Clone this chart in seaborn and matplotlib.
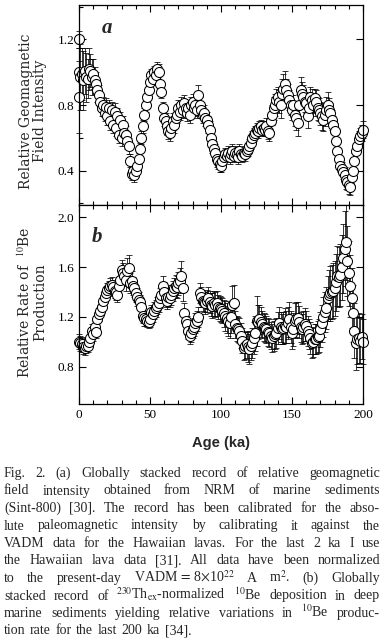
import matplotlib
matplotlib.use("Agg")
import matplotlib.pyplot as plt
import seaborn as sns
from matplotlib.ticker import MultipleLocator

# (a) relative geomagnetic field intensity
# two Hawaiian lava points at 0 ka, then Sint-800 at 1 ka steps
age_a = [0, 0] + list(range(0, 201))
intensity_a = [
    1.20, 0.85,
    1.00, 0.97, 0.99, 0.95, 1.01, 0.97, 0.96, 1.02, 1.01, 0.97,
    0.99, 0.95, 0.93, 0.89, 0.86, 0.82, 0.78, 0.80, 0.75, 0.79,
    0.73, 0.78, 0.70, 0.77, 0.68, 0.76, 0.66, 0.73, 0.62, 0.71,
    0.60, 0.68, 0.63, 0.62, 0.58, 0.55, 0.46, 0.38, 0.40, 0.37,
    0.40, 0.43, 0.47, 0.53, 0.60, 0.67, 0.74, 0.80, 0.85, 0.89,
    0.94, 0.98, 0.96, 1.00, 0.98, 1.02, 1.00, 0.93, 0.88, 0.78,
    0.72, 0.70, 0.67, 0.64, 0.63, 0.66, 0.70, 0.68, 0.72, 0.74,
    0.78, 0.76, 0.80, 0.77, 0.81, 0.78, 0.75, 0.78, 0.74, 0.80,
    0.82, 0.78, 0.80, 0.77, 0.86, 0.80, 0.77, 0.74, 0.75, 0.72,
    0.71, 0.68, 0.65, 0.60, 0.56, 0.53, 0.51, 0.47, 0.46, 0.44,
    0.43, 0.46, 0.48, 0.50, 0.49, 0.51, 0.48, 0.50, 0.52, 0.49,
    0.51, 0.50, 0.48, 0.52, 0.50, 0.49, 0.51, 0.50, 0.52, 0.53,
    0.55, 0.57, 0.60, 0.62, 0.63, 0.65, 0.64, 0.66, 0.67, 0.65,
    0.66, 0.65, 0.67, 0.64, 0.63, 0.70, 0.74, 0.78, 0.80, 0.83,
    0.85, 0.82, 0.80, 0.87, 0.90, 0.93, 0.89, 0.86, 0.83, 0.80,
    0.77, 0.80, 0.74, 0.72, 0.69, 0.80, 0.89, 0.87, 0.85, 0.82,
    0.81, 0.73, 0.78, 0.85, 0.83, 0.80, 0.84, 0.82, 0.78, 0.77,
    0.75, 0.73, 0.71, 0.74, 0.77, 0.80, 0.77, 0.75, 0.71, 0.68,
    0.64, 0.58, 0.52, 0.47, 0.43, 0.41, 0.39, 0.37, 0.34, 0.33,
    0.31, 0.30, 0.36, 0.40, 0.46, 0.52, 0.55, 0.59, 0.61, 0.63,
    0.65,
]
err_a = [
    0.05, 0.22,
    0.15, 0.20, 0.16, 0.18, 0.14, 0.15, 0.12, 0.13, 0.10, 0.11,
    0.09, 0.08, 0.07, 0.07, 0.06, 0.05, 0.05, 0.05, 0.05, 0.05,
    0.05, 0.05, 0.05, 0.05, 0.05, 0.05, 0.05, 0.05, 0.05, 0.05,
    0.05, 0.05, 0.05, 0.05, 0.05, 0.05, 0.04, 0.04, 0.04, 0.04,
    0.04, 0.04, 0.04, 0.04, 0.04, 0.04, 0.04, 0.04, 0.04, 0.04,
    0.04, 0.04, 0.04, 0.04, 0.04, 0.04, 0.05, 0.05, 0.04, 0.04,
    0.05, 0.05, 0.05, 0.05, 0.05, 0.05, 0.05, 0.05, 0.05, 0.05,
    0.05, 0.05, 0.05, 0.05, 0.05, 0.05, 0.05, 0.05, 0.05, 0.05,
    0.05, 0.05, 0.05, 0.05, 0.06, 0.05, 0.05, 0.05, 0.05, 0.05,
    0.05, 0.05, 0.05, 0.05, 0.05, 0.05, 0.05, 0.05, 0.05, 0.05,
    0.04, 0.04, 0.04, 0.04, 0.04, 0.04, 0.04, 0.04, 0.04, 0.04,
    0.04, 0.04, 0.04, 0.04, 0.04, 0.04, 0.04, 0.04, 0.04, 0.04,
    0.04, 0.04, 0.04, 0.04, 0.04, 0.04, 0.04, 0.04, 0.04, 0.04,
    0.04, 0.04, 0.05, 0.05, 0.05, 0.06, 0.06, 0.07, 0.07, 0.07,
    0.06, 0.07, 0.08, 0.09, 0.09, 0.08, 0.07, 0.07, 0.06, 0.06,
    0.06, 0.06, 0.07, 0.07, 0.08, 0.07, 0.08, 0.07, 0.07, 0.06,
    0.06, 0.07, 0.06, 0.06, 0.07, 0.07, 0.06, 0.07, 0.07, 0.07,
    0.07, 0.08, 0.07, 0.07, 0.08, 0.08, 0.07, 0.06, 0.06, 0.05,
    0.05, 0.05, 0.05, 0.05, 0.04, 0.04, 0.04, 0.05, 0.05, 0.05,
    0.05, 0.05, 0.05, 0.05, 0.05, 0.05, 0.05, 0.05, 0.05, 0.05,
    0.05,
]

# (b) relative 10Be production rate
age_b = list(range(0, 201))
rate_b = [
    1.00, 0.99, 0.98, 0.96, 0.95, 0.97, 0.97, 1.00, 1.03, 1.09,
    1.06, 1.12, 1.08, 1.18, 1.22, 1.25, 1.28, 1.33, 1.36, 1.39,
    1.42, 1.43, 1.45, 1.46, 1.44, 1.41, 1.40, 1.38, 1.45, 1.50,
    1.58, 1.55, 1.53, 1.50, 1.57, 1.59, 1.47, 1.49, 1.45, 1.43,
    1.39, 1.36, 1.34, 1.32, 1.28, 1.21, 1.19, 1.18, 1.17, 1.16,
    1.18, 1.24, 1.22, 1.25, 1.27, 1.29, 1.31, 1.35, 1.38, 1.45,
    1.40, 1.35, 1.33, 1.36, 1.35, 1.38, 1.41, 1.43, 1.45, 1.44,
    1.47, 1.49, 1.53, 1.43, 1.23, 1.17, 1.14, 1.09, 1.05, 1.07,
    1.10, 1.12, 1.15, 1.17, 1.20, 1.39, 1.36, 1.33, 1.32, 1.31,
    1.33, 1.35, 1.32, 1.30, 1.29, 1.31, 1.30, 1.31, 1.28, 1.27,
    1.26, 1.25, 1.23, 1.21, 1.19, 1.17, 1.15, 1.20, 1.30, 1.31,
    1.14, 1.11, 1.10, 1.09, 1.05, 1.01, 0.95, 0.97, 0.98, 0.96,
    0.94, 0.97, 0.99, 1.03, 1.07, 1.17, 1.16, 1.18, 1.16, 1.14,
    1.12, 1.11, 1.10, 1.08, 1.07, 1.05, 1.03, 1.05, 1.06, 1.07,
    1.11, 1.15, 1.12, 1.10, 1.11, 1.13, 1.12, 1.15, 1.18, 1.12,
    1.07, 1.10, 1.17, 1.18, 1.19, 1.16, 1.12, 1.10, 1.12, 1.14,
    1.13, 1.09, 1.06, 1.03, 0.99, 1.00, 1.02, 1.02, 1.04, 1.05,
    1.10, 1.15, 1.20, 1.24, 1.27, 1.35, 1.38, 1.39, 1.40, 1.41,
    1.43, 1.48, 1.53, 1.52, 1.54, 1.60, 1.67, 1.75, 1.80, 1.65,
    1.55, 1.45, 1.35, 1.23, 1.09, 0.99, 1.02, 1.03, 1.01, 1.04,
    1.00,
]
err_b = [
    0.06, 0.06, 0.06, 0.06, 0.06, 0.06, 0.05, 0.05, 0.05, 0.05,
    0.05, 0.05, 0.05, 0.05, 0.05, 0.05, 0.05, 0.05, 0.05, 0.05,
    0.05, 0.06, 0.06, 0.06, 0.06, 0.06, 0.06, 0.06, 0.07, 0.07,
    0.08, 0.08, 0.08, 0.09, 0.10, 0.11, 0.08, 0.08, 0.07, 0.07,
    0.07, 0.07, 0.06, 0.06, 0.06, 0.06, 0.06, 0.05, 0.05, 0.05,
    0.06, 0.06, 0.06, 0.07, 0.07, 0.07, 0.07, 0.08, 0.08, 0.08,
    0.08, 0.07, 0.07, 0.07, 0.07, 0.08, 0.08, 0.08, 0.09, 0.09,
    0.09, 0.10, 0.12, 0.10, 0.08, 0.07, 0.07, 0.07, 0.07, 0.07,
    0.07, 0.07, 0.08, 0.08, 0.08, 0.08, 0.08, 0.08, 0.08, 0.09,
    0.09, 0.09, 0.09, 0.09, 0.10, 0.10, 0.10, 0.10, 0.10, 0.10,
    0.10, 0.10, 0.11, 0.12, 0.12, 0.12, 0.12, 0.13, 0.15, 0.15,
    0.11, 0.10, 0.10, 0.10, 0.10, 0.10, 0.10, 0.11, 0.11, 0.12,
    0.12, 0.12, 0.12, 0.13, 0.14, 0.20, 0.14, 0.12, 0.12, 0.11,
    0.11, 0.11, 0.11, 0.11, 0.11, 0.11, 0.11, 0.12, 0.12, 0.12,
    0.13, 0.13, 0.12, 0.12, 0.13, 0.14, 0.13, 0.13, 0.14, 0.13,
    0.13, 0.13, 0.14, 0.14, 0.13, 0.13, 0.12, 0.12, 0.13, 0.13,
    0.12, 0.12, 0.12, 0.13, 0.12, 0.12, 0.12, 0.12, 0.13, 0.13,
    0.14, 0.15, 0.16, 0.16, 0.17, 0.18, 0.20, 0.22, 0.22, 0.22,
    0.22, 0.23, 0.24, 0.24, 0.25, 0.26, 0.28, 0.30, 0.30, 0.28,
    0.26, 0.25, 0.24, 0.23, 0.22, 0.22, 0.20, 0.20, 0.18, 0.18,
    0.18,
]

caption_lines = [
    "Fig. 2. (a) Globally stacked record of relative geomagnetic",
    "field intensity obtained from NRM of marine sediments",
    "(Sint-800) [30]. The record has been calibrated for the abso-",
    "lute paleomagnetic intensity by calibrating it against the",
    "VADM data for the Hawaiian lavas. For the last 2 ka I use",
    "the Hawaiian lava data [31]. All data have been normalized",
    r"to the present-day VADM$\,=\,$8$\times$10$^{22}$ A m$^{2}$. (b) Globally",
    r"stacked record of $^{230}$Th$_{\mathrm{ex}}$-normalized $^{10}$Be deposition in deep",
    r"marine sediments yielding relative variations in $^{10}$Be produc-",
    "tion rate for the last 200 ka [34].",
]

sns.set_style("ticks")
plt.rcParams['font.family'] = ['Liberation Serif', 'DejaVu Serif']
plt.rcParams['mathtext.fontset'] = 'stix'

W, H = 382, 640
fig = plt.figure(figsize=(W / 100, H / 100), dpi=100)
ax_a = fig.add_axes([79 / W, 1 - 205 / H, 284 / W, 200 / H])
ax_b = fig.add_axes([79 / W, 1 - 404 / H, 284 / W, 199 / H])


def draw_panel(ax, x, y, err):
    ax.errorbar(x, y, yerr=err, fmt='none', ecolor='black', elinewidth=0.55,
                capsize=2.3, capthick=0.55, zorder=1, clip_on=False)
    sns.scatterplot(x=x, y=y, ax=ax, color='white', edgecolor='black',
                    linewidth=0.75, s=52, zorder=2, legend=False, clip_on=False)
    ax.set_xlim(0, 200)
    ax.set_xlabel("")
    ax.xaxis.set_major_locator(MultipleLocator(50))
    ax.xaxis.set_minor_locator(MultipleLocator(10))
    ax.tick_params(which='both', direction='in', top=True, right=True,
                   labelsize=9.5, width=0.8, colors='black')
    ax.tick_params(which='major', length=5)
    ax.tick_params(which='minor', length=3)
    ax.tick_params(axis='y', which='minor', right=False)
    for sp in ax.spines.values():
        sp.set_linewidth(0.9)
        sp.set_color('black')


label_font = dict(family='DejaVu Serif', fontsize=10, linespacing=1.05)

draw_panel(ax_a, age_a, intensity_a, err_a)
ax_a.set_ylim(0.19, 1.41)
ax_a.set_yticks([0.4, 0.8, 1.2])
ax_a.yaxis.set_minor_locator(MultipleLocator(0.2))
ax_a.tick_params(labelbottom=False)
ax_a.set_ylabel("Relative Geomagnetic\nField Intensity", **label_font)
ax_a.yaxis.set_label_coords(-0.112, 0.47)
ax_a.text(0.10, 0.885, "a", transform=ax_a.transAxes, fontsize=15,
          style='italic', fontweight='bold', ha='center', va='center')

draw_panel(ax_b, age_b, rate_b, err_b)
ax_b.set_ylim(0.5, 2.1)
ax_b.set_yticks([0.8, 1.2, 1.6, 2.0])
ax_b.yaxis.set_minor_locator(MultipleLocator(0.4))
ax_b.set_xticks([0, 50, 100, 150, 200])
ax_b.set_ylabel("Relative Rate of  $^{10}$Be\nProduction", **label_font)
ax_b.yaxis.set_label_coords(-0.112, 0.51)
ax_b.text(0.065, 0.84, "b", transform=ax_b.transAxes, fontsize=15,
          style='italic', fontweight='bold', ha='center', va='center')

fig.text(221 / W, 1 - 443 / H, "Age (ka)", family='Liberation Sans',
         fontweight='bold', fontsize=10.5, ha='center', va='center')

# justified caption, placed word by word
fig.canvas.draw()
renderer = fig.canvas.get_renderer()
left, right = 4, 380
for i, line in enumerate(caption_lines):
    yb = 1 - (477 + 17.5 * i) / H
    words = line.split(' ')
    texts = [fig.text(0, yb, w, fontsize=10, va='baseline', ha='left') for w in words]
    widths = [t.get_window_extent(renderer).width for t in texts]
    if i == len(caption_lines) - 1:
        gap = 4.5
    else:
        gap = (right - left - sum(widths)) / (len(words) - 1)
    x = left
    for t, w in zip(texts, widths):
        t.set_x(x / W)
        x += w + gap

fig.savefig("out.png", dpi=100)
